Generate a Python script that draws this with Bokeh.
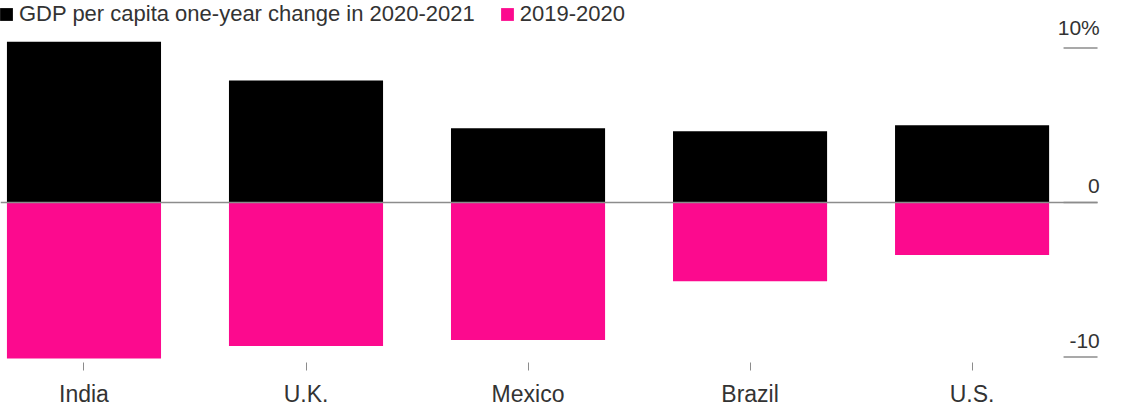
from bokeh.plotting import figure
from bokeh.models import ColumnDataSource, FixedTicker, Range1d, Legend, LegendItem
from bokeh.core.properties import value
from bokeh.embed import file_html
from bokeh.resources import INLINE

countries = ["India", "U.K.", "Mexico", "Brazil", "U.S."]
change_2021 = [10.4, 7.9, 4.8, 4.6, 5.0]
change_2020 = [-10.1, -9.3, -8.9, -5.1, -3.4]
ytick_values = [10, 0, -10]
ytick_labels = ["10%", "0", "-10"]
legend_labels = ["GDP per capita one-year change in 2020-2021", "2019-2020"]

BLACK = "#000000"
PINK = "#fc0a8e"
FONT = "Liberation Sans"

xs = list(range(len(countries)))
src = ColumnDataSource(dict(x=xs, top=change_2021, bottom=change_2020, name=countries))

p = figure(frame_width=1123, frame_height=362, output_backend="svg", toolbar_location=None,
           x_range=Range1d(-0.376, 4.682), y_range=Range1d(-10.36, 13.07),
           min_border=0, outline_line_color=None, background_fill_color="white",
           border_fill_color="white")

r1 = p.vbar(x="x", top="top", bottom=0, width=0.694, source=src, fill_color=BLACK, line_color=None)
r2 = p.vbar(x="x", top=0, bottom="bottom", width=0.694, source=src, fill_color=PINK, line_color=None)

# zero line + right-side tick marks
p.segment(x0=-0.376, x1=4.565, y0=0, y1=0, line_color="#8c8c8c", line_width=1.5)
tick_src = ColumnDataSource(dict(y=ytick_values, t=ytick_labels))
p.segment(x0=4.412, x1=4.565, y0="y", y1="y", source=tick_src, line_color="#8c8c8c", line_width=1.5)
p.text(x=4.575, y="y", text="t", source=tick_src, text_align="right", text_baseline="bottom",
       y_offset=-9, text_font=value(FONT), text_font_size="21px", text_color="#333333")

p.grid.visible = False
p.yaxis.visible = False
xa = p.xaxis[0]
xa.ticker = FixedTicker(ticks=xs)
xa.major_label_overrides = {i: c for i, c in zip(xs, countries)}
xa.axis_line_color = None
xa.major_tick_in = 0
xa.major_tick_out = 8
xa.major_tick_line_color = "#8c8c8c"
xa.minor_tick_line_color = None
xa.major_label_standoff = 10
xa.major_label_text_font = FONT
xa.major_label_text_font_size = "23px"
xa.major_label_text_color = "#333333"

legend = Legend(items=[LegendItem(label=legend_labels[0], renderers=[r1]),
                       LegendItem(label=legend_labels[1], renderers=[r2])],
                orientation="horizontal", location=(-2, 335), border_line_color=None,
                background_fill_alpha=0, label_text_font=FONT, label_text_font_size="22px",
                label_text_color="#333333", glyph_width=16, glyph_height=16, spacing=24,
                padding=0, margin=0)
p.add_layout(legend, "center")

open("out.html", "w").write(file_html(p, INLINE))
